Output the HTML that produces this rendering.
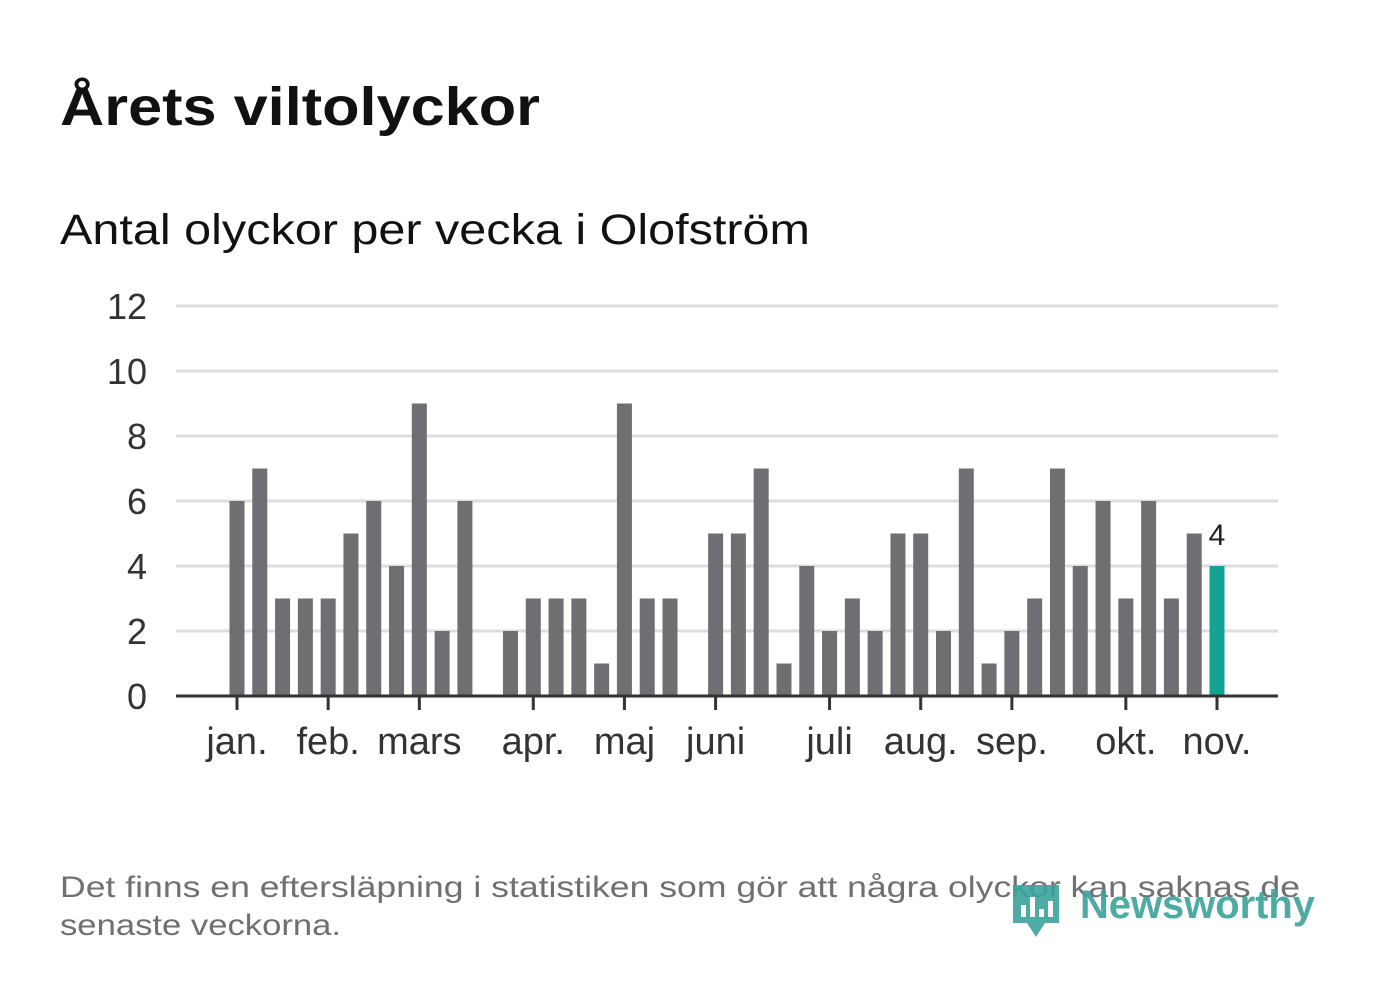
<!DOCTYPE html>
<html><head><meta charset="utf-8"><style>
body{margin:0;background:#fff;width:1382px;height:999px;overflow:hidden;font-family:"Liberation Sans","DejaVu Sans",sans-serif}
</style></head><body>
<svg width="1382" height="999" viewBox="0 0 1382 999" xmlns="http://www.w3.org/2000/svg">
<text x="60" y="125" font-size="54" font-weight="bold" fill="#111" textLength="480" lengthAdjust="spacingAndGlyphs">Årets viltolyckor</text>
<text x="60" y="244" font-size="43" fill="#111" textLength="750" lengthAdjust="spacingAndGlyphs">Antal olyckor per vecka i Olofström</text>
<g id="grid"></g><g id="bars"></g><g id="xax"></g>
<text x="60" y="897" font-size="30" fill="#707070" textLength="1240" lengthAdjust="spacingAndGlyphs">Det finns en eftersläpning i statistiken som gör att några olyckor kan saknas de</text>
<text x="60" y="935" font-size="30" fill="#707070" textLength="281" lengthAdjust="spacingAndGlyphs">senaste veckorna.</text>
<g>
<path d="M1013 885 h46 v38 h-14 l-9 14 l-9 -14 h-14 z" fill="#3aa39a" opacity="0.9"/>
<rect x="1021" y="905" width="5" height="12" fill="#fff"/><rect x="1030" y="897" width="5" height="20" fill="#fff"/><rect x="1039" y="909" width="5" height="8" fill="#fff"/><rect x="1048" y="901" width="5" height="16" fill="#fff"/>
<text x="1080" y="918" font-size="40" font-weight="bold" fill="#3aa39a" opacity="0.9" textLength="235" lengthAdjust="spacingAndGlyphs">Newsworthy</text>
</g>
</svg>
<script>
const weeks=[1,2,3,4,5,6,7,8,9,10,11,12,13,14,15,16,17,18,19,20,21,22,23,24,25,26,27,28,29,30,31,32,33,34,35,36,37,38,39,40,41,42,43,44];
const values=[6,7,3,3,3,5,6,4,9,2,6,0,2,3,3,3,1,9,3,3,0,5,5,7,1,4,2,3,2,5,5,2,7,1,2,3,7,4,6,3,6,3,5,4];
const monthLabels=["jan.","feb.","mars","apr.","maj","juni","juli","aug.","sep.","okt.","nov."];
const monthWeeks=[1,5,9,14,18,22,27,31,35,40,44];
const yTicks=[0,2,4,6,8,10,12];
const NS="http://www.w3.org/2000/svg";
const x=w=>237+(w-1)*(1217-237)/43;
const y=v=>696-v*(696-306)/12;
function mk(t,a,p){const e=document.createElementNS(NS,t);for(const k in a)e.setAttribute(k,a[k]);p.appendChild(e);return e;}
const G=document.getElementById('grid'),B=document.getElementById('bars'),X=document.getElementById('xax');
yTicks.forEach(t=>{
 const l=mk('line',{x1:176,x2:1278,y1:y(t),y2:y(t),stroke:'#ddd','stroke-width':3},G);
 
 
 const tx=mk('text',{x:147,y:y(t)+13,'font-size':36,'text-anchor':'end',fill:'#333'},G);tx.textContent=t;
 
 
});
weeks.forEach((w,i)=>{
 const v=values[i];if(!v)return;
 const last=i===weeks.length-1;
 const r=mk('rect',{x:x(w)-7.5,y:y(v),width:15,height:y(0)-y(v),fill:last?'#13a396':'#6f6e73'},B);
 
 
 if(last){const t=mk('text',{x:x(w),y:y(v)-21,'font-size':30,'text-anchor':'middle',fill:'#222'},B);t.textContent=v;
 
 }
});
const ax=mk('line',{x1:176,x2:1278,y1:y(0),y2:y(0),stroke:'#333','stroke-width':3},X);


monthWeeks.forEach((w,i)=>{
 mk('line',{x1:x(w),x2:x(w),y1:y(0),y2:y(0)+14,stroke:'#333','stroke-width':3},X);
 const t=mk('text',{x:x(w),y:754,'font-size':38,'text-anchor':'middle',fill:'#333'},X);t.textContent=monthLabels[i];
 
 
});
</script>
</body></html>
